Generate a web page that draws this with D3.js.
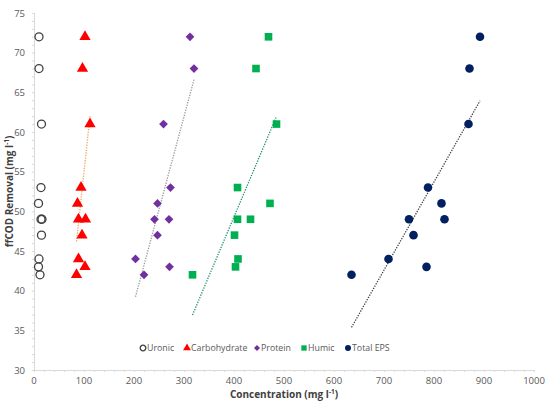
<!DOCTYPE html>
<html>
<head>
<meta charset="utf-8">
<script src="https://cdn.jsdelivr.net/npm/d3@7"></script>
<style>
  body { margin: 0; background: #fff; }
  text { font-family: "Open Sans", "DejaVu Sans", sans-serif; }
</style>
</head>
<body>
<div id="chart"></div>
<script>

// ffCOD removal (shared y values for every sample)
const removal = [72, 68, 61, 53, 51, 49, 49, 47, 44, 43, 42];

// concentrations
const uronic       = [10, 10, 15, 14, 9, 14, 16, 15, 10, 9, 12];
const carbohydrate = [102, 97, 112, 94, 87, 89, 103, 96, 89, 102, 85];
const protein      = [312, 320, 259, 273, 247, 241, 270, 247, 203, 271, 220];
const humic        = [469, 444, 485, 407, 472, 407, 433, 401, 408, 403, 317];
const totalEPS     = [892, 871, 869, 788, 815, 750, 821, 759, 709, 785, 635];

const xTicks = [0, 100, 200, 300, 400, 500, 600, 700, 800, 900, 1000];
const yTicks = [30, 35, 40, 45, 50, 55, 60, 65, 70, 75];

var width = 550, height = 405;
var plotLeft = 34, plotRight = 534, plotTop = 13, plotBottom = 370;

var svg = d3.select("#chart")
  .append("svg")
    .attr("width", width)
    .attr("height", height);

var x = d3.scaleLinear().domain([0, 1000]).range([plotLeft, plotRight]);
var y = d3.scaleLinear().domain([30, 75]).range([plotBottom, plotTop]);

// axes
var axisColor = "#d9d9d9", labelColor = "#595959";

var xAxis = svg.append("g")
  .attr("transform", "translate(0," + plotBottom + ")")
  .call(d3.axisBottom(x).tickValues(d3.range(0, 1001, 20)).tickSize(2).tickFormat(""));
var yAxis = svg.append("g")
  .attr("transform", "translate(" + plotLeft + ",0)")
  .call(d3.axisLeft(y).tickValues(d3.range(30, 75.1, 1)).tickSize(2).tickFormat(""));
[xAxis, yAxis].forEach(function(g) {
  g.select(".domain").attr("stroke", axisColor);
  g.selectAll(".tick line").attr("stroke", axisColor);
});

svg.append("g").selectAll("text")
  .data(xTicks).enter().append("text")
    .attr("x", function(d) { return x(d); })
    .attr("y", plotBottom + 14)
    .attr("text-anchor", "middle")
    .attr("font-size", 9.5)
    .attr("fill", labelColor)
    .text(function(d) { return d; });

svg.append("g").selectAll("text")
  .data(yTicks).enter().append("text")
    .attr("x", plotLeft - 9)
    .attr("y", function(d) { return y(d) + 3.5; })
    .attr("text-anchor", "end")
    .attr("font-size", 9.5)
    .attr("fill", labelColor)
    .text(function(d) { return d; });

svg.append("text")
  .attr("x", (plotLeft + plotRight) / 2)
  .attr("y", 398)
  .attr("text-anchor", "middle")
  .attr("font-size", 10)
  .attr("font-weight", "bold")
  .attr("fill", "#404040")
  .html("Concentration (mg l<tspan dy='-4' font-size='6.5'>-1</tspan><tspan dy='4'>)</tspan>");

svg.append("text")
  .attr("transform", "translate(13," + ((plotTop + plotBottom) / 2) + ")rotate(-90)")
  .attr("text-anchor", "middle")
  .attr("font-size", 10)
  .attr("font-weight", "bold")
  .attr("fill", "#404040")
  .html("ffCOD Removal (mg l<tspan dy='-4' font-size='6.5'>-1</tspan><tspan dy='4'>)</tspan>");

// series setup
var series = [
  { name: "Uronic",       xs: uronic,       shape: "circle",   fill: "none",    stroke: "#404040", trend: null },
  { name: "Carbohydrate", xs: carbohydrate, shape: "triangle", fill: "#ff0000", stroke: "none",    trend: "#f4a460" },
  { name: "Protein",      xs: protein,      shape: "diamond",  fill: "#7030a0", stroke: "none",    trend: "#999999" },
  { name: "Humic",        xs: humic,        shape: "square",   fill: "#00b050", stroke: "none",    trend: "#1f8f70" },
  { name: "Total EPS",    xs: totalEPS,     shape: "dot",      fill: "#002060", stroke: "none",    trend: "#404040" }
];

function drawMarker(g, s, scale) {
  if (s.shape === "circle") {
    g.append("circle").attr("r", 4 * scale).attr("fill", "none")
      .attr("stroke", s.stroke).attr("stroke-width", 1.3);
  } else if (s.shape === "dot") {
    g.append("circle").attr("r", 4.3 * scale).attr("fill", s.fill);
  } else if (s.shape === "triangle") {
    g.append("path").attr("d", d3.symbol(d3.symbolTriangle, 55 * scale * scale)()).attr("fill", s.fill);
  } else if (s.shape === "diamond") {
    g.append("path").attr("d", d3.symbol(d3.symbolSquare, 38 * scale * scale)())
      .attr("transform", "rotate(45)").attr("fill", s.fill);
  } else if (s.shape === "square") {
    g.append("path").attr("d", d3.symbol(d3.symbolSquare, 58 * scale * scale)()).attr("fill", s.fill);
  }
}

// linear trend lines (least squares, from min x to max x)
series.forEach(function(s) {
  if (!s.trend) return;
  var mx = d3.mean(s.xs), my = d3.mean(removal);
  var sxy = d3.sum(s.xs, function(v, i) { return (v - mx) * (removal[i] - my); });
  var sxx = d3.sum(s.xs, function(v) { return (v - mx) * (v - mx); });
  var b = sxy / sxx, a = my - b * mx;
  var x0 = d3.min(s.xs), x1 = d3.max(s.xs);
  svg.append("line")
    .attr("x1", x(x0)).attr("y1", y(a + b * x0))
    .attr("x2", x(x1)).attr("y2", y(a + b * x1))
    .attr("stroke", s.trend)
    .attr("stroke-width", 1.3)
    .attr("stroke-dasharray", "1.3,1.3");
});

// points
series.forEach(function(s) {
  s.xs.forEach(function(v, i) {
    var g = svg.append("g").attr("transform", "translate(" + x(v) + "," + y(removal[i]) + ")");
    drawMarker(g, s, 1);
  });
});

// legend
var legendX = [143, 187, 257, 304, 348];
var legend = svg.append("g");
series.forEach(function(s, i) {
  var g = legend.append("g").attr("transform", "translate(" + legendX[i] + ",348)");
  drawMarker(g, s, 0.7);
  g.append("text")
    .attr("x", 4)
    .attr("y", 3.3)
    .attr("font-size", 8.8)
    .attr("fill", labelColor)
    .text(s.name);
});

</script>
</body>
</html>
